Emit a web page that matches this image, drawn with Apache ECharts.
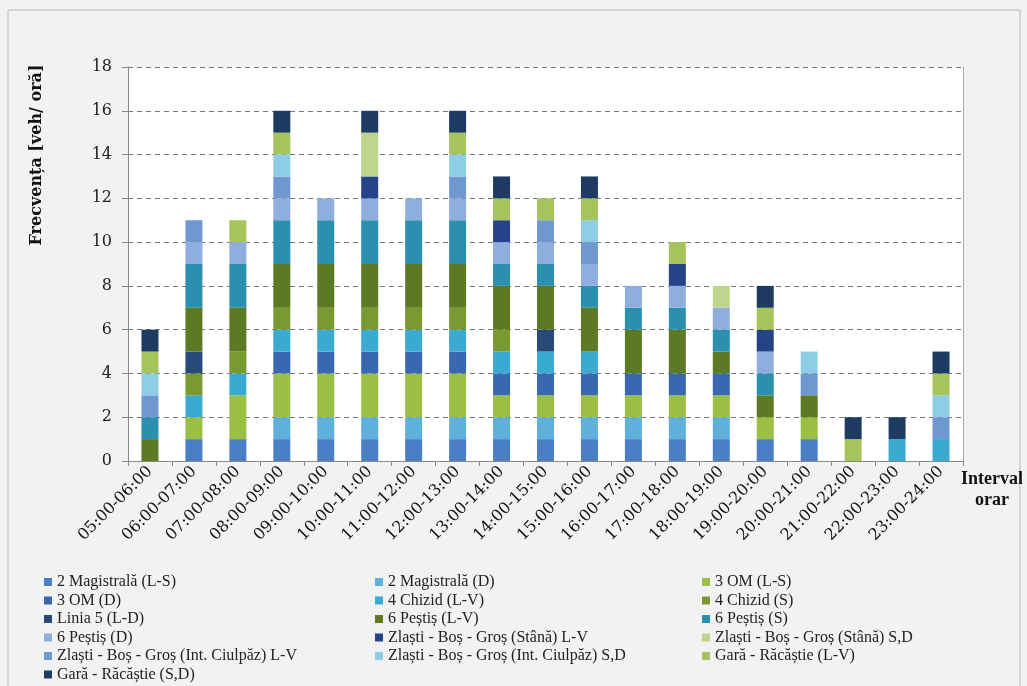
<!DOCTYPE html>
<html>
<head>
<meta charset="utf-8">
<script src="https://cdn.jsdelivr.net/npm/echarts@6/dist/echarts.min.js"></script>
<style>
html,body{margin:0;padding:0;background:#fafafa;}
#c{width:1027px;height:686px;}
</style>
</head>
<body>
<div id="c"></div>
<script>
const categories = ['05:00-06:00','06:00-07:00','07:00-08:00','08:00-09:00','09:00-10:00','10:00-11:00','11:00-12:00','12:00-13:00','13:00-14:00','14:00-15:00','15:00-16:00','16:00-17:00','17:00-18:00','18:00-19:00','19:00-20:00','20:00-21:00','21:00-22:00','22:00-23:00','23:00-24:00'];
const yTicks = [0,2,4,6,8,10,12,14,16,18];

const magistralaLS = [0,1,1,1,1,1,1,1,1,1,1,1,1,1,1,1,0,0,0];
const magistralaD  = [0,0,0,1,1,1,1,1,1,1,1,1,1,1,0,0,0,0,0];
const omLS         = [0,1,2,2,2,2,2,2,1,1,1,1,1,1,1,1,0,0,0];
const omD          = [0,0,0,1,1,1,1,1,1,1,1,1,1,1,0,0,0,0,0];
const chizidLV     = [0,1,1,1,1,1,1,1,1,1,1,0,0,0,0,0,0,1,1];
const chizidS      = [0,1,1,1,1,1,1,1,1,0,0,0,0,0,0,0,0,0,0];
const linia5       = [0,1,0,0,0,0,0,0,0,1,0,0,0,0,0,0,0,0,0];
const pestisLV     = [1,2,2,2,2,2,2,2,2,2,2,2,2,1,1,1,0,0,0];
const pestisS      = [1,2,2,2,2,2,2,2,1,1,1,1,1,1,1,0,0,0,0];
const pestisD      = [0,1,1,1,1,1,1,1,1,1,1,1,1,1,1,0,0,0,0];
const stanaLV      = [0,0,0,0,0,1,0,0,1,0,0,0,1,0,1,0,0,0,0];
const stanaSD      = [0,0,0,0,0,2,0,0,0,0,0,0,0,1,0,0,0,0,0];
const ciulpazLV    = [1,1,0,1,0,0,0,1,0,1,1,0,0,0,0,1,0,0,1];
const ciulpazSD    = [1,0,0,1,0,0,0,1,0,0,1,0,0,0,0,1,0,0,1];
const garaLV       = [1,0,1,1,0,0,0,1,1,1,1,0,1,0,1,0,1,0,1];
const garaSD       = [1,0,0,1,0,1,0,1,1,0,1,0,0,0,1,0,1,1,1];

const seriesNames = ['2 Magistrală (L-S)','2 Magistrală (D)','3 OM (L-S)','3 OM (D)','4 Chizid (L-V)','4 Chizid (S)','Linia 5 (L-D)','6 Peștiș (L-V)','6 Peștiș (S)','6 Peștiș (D)','Zlaști - Boș - Groș (Stână) L-V','Zlaști - Boș - Groș (Stână) S,D','Zlaști - Boș - Groș (Int. Ciulpăz) L-V','Zlaști - Boș - Groș (Int. Ciulpăz) S,D','Gară - Răcăștie (L-V)','Gară - Răcăștie (S,D)'];
const seriesData = [magistralaLS,magistralaD,omLS,omD,chizidLV,chizidS,linia5,pestisLV,pestisS,pestisD,stanaLV,stanaSD,ciulpazLV,ciulpazSD,garaLV,garaSD];
const colors = ['#4a7fc6','#5fb0da','#9bbe45','#3a68b0','#3aaad0','#789a30','#274a78','#5b7a23','#2b90ad','#90aedd','#244389','#bed68c','#6f97d0','#8dcde5','#a5c55c','#1e3b64'];

const serif = 'DejaVu Serif';
const chart = echarts.init(document.getElementById('c'));

const legendCommon = {
  orient:'vertical', icon:'rect', itemWidth:8, itemHeight:8, itemGap:2.5,
  top:574, height:200, selectedMode:false, padding:0,
  textStyle:{fontFamily:'Liberation Serif', fontSize:16, color:'#222', lineHeight:16}
};

chart.setOption({
  animation:false,
  backgroundColor:'#f2f2f2',
  color:colors,
  graphic:[
    {type:'rect', shape:{x:8,y:10,width:1012,height:700}, style:{fill:'none', stroke:'#b8b8b8', lineWidth:1}, silent:true},
    {type:'text', x:37, y:155, rotation:Math.PI/2, style:{text:'Frecvența [veh/ oră]', font:'bold 16px "DejaVu Serif"', fill:'#111', textAlign:'center', textVerticalAlign:'middle'}},
    {type:'text', x:992, y:469, style:{text:'Interval\norar', font:'bold 18px "Liberation Serif"', fill:'#111', textAlign:'center', lineHeight:21}}
  ],
  legend:[
    Object.assign({}, legendCommon, {left:44, data:seriesNames.filter((n,i)=>i%3===0)}),
    Object.assign({}, legendCommon, {left:375, data:seriesNames.filter((n,i)=>i%3===1)}),
    Object.assign({}, legendCommon, {left:702, data:seriesNames.filter((n,i)=>i%3===2)})
  ],
  grid:{left:128, right:64, top:67, bottom:225, show:true, backgroundColor:'#ffffff', borderWidth:0},
  xAxis:{
    type:'category', data:categories,
    axisLine:{lineStyle:{color:'#888'}},
    axisTick:{show:true, length:5, lineStyle:{color:'#888'}},
    axisLabel:{rotate:45, margin:8, fontFamily:serif, fontSize:16, color:'#111', interval:0}
  },
  yAxis:[{
    type:'value', min:0, max:18, interval:2,
    axisLine:{show:true, lineStyle:{color:'#888'}},
    axisTick:{show:true, length:6, lineStyle:{color:'#888'}},
    axisLabel:{fontFamily:serif, fontSize:16, color:'#222', margin:16, formatter:v=>yTicks.includes(v)?String(v):''},
    splitLine:{show:true, lineStyle:{color:'#777', type:[5,4], width:1}}
  },{
    type:'value', min:0, max:18, interval:2, position:'right',
    axisLine:{show:true, lineStyle:{color:'#aaa'}},
    axisTick:{show:false}, axisLabel:{show:false}, splitLine:{show:false}
  }],
  series: seriesNames.map((n,i)=>({
    name:n, type:'bar', stack:'total', barWidth:17,
    data:seriesData[i], itemStyle:{color:colors[i]}
  }))
});
</script>
</body>
</html>
